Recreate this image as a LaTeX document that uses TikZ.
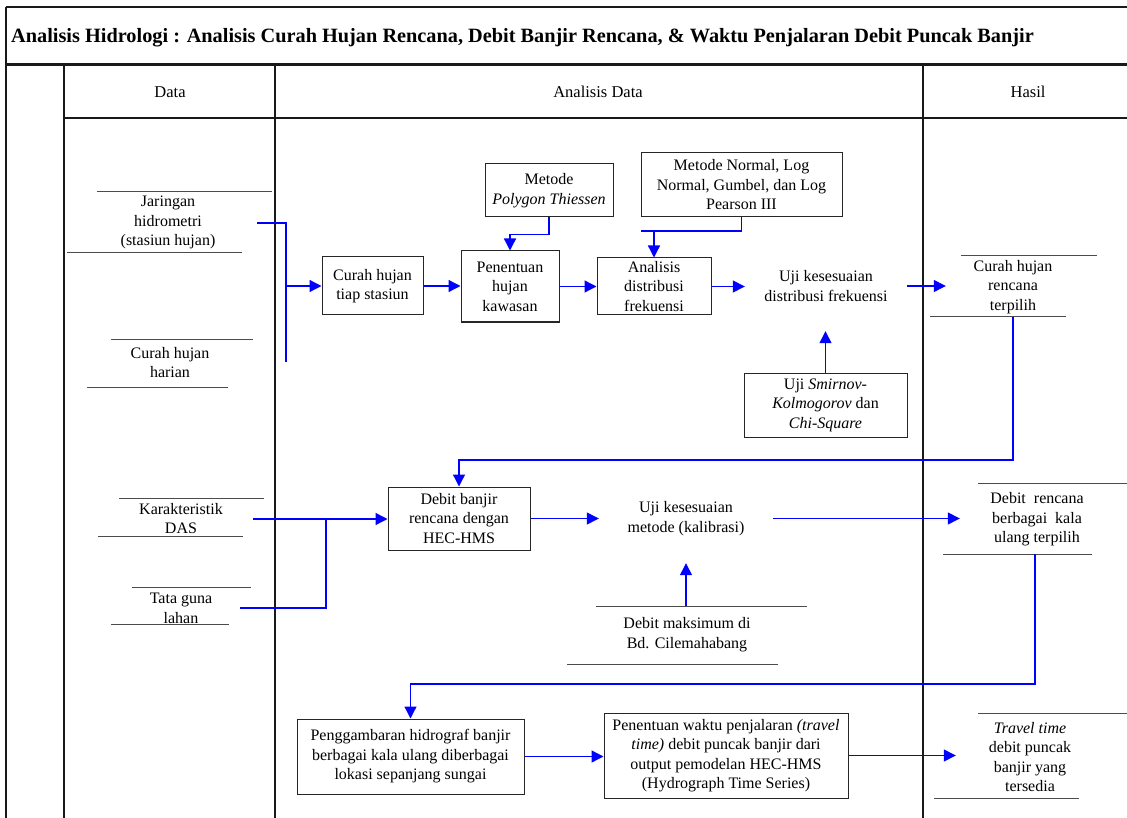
\documentclass[tikz,border=0pt]{standalone}
\usepackage{fontspec}
\setmainfont{Liberation Serif}
\usetikzlibrary{arrows.meta}

\tikzset{
  txt/.style={font=\fontsize{16}{19.5}\selectfont, align=center, inner sep=1pt},
  box/.style={txt, draw=black!85, line width=1pt},
  rule/.style={draw=black!70, line width=1pt},
  frame/.style={draw=black!90, line width=1.3pt},
  flowline/.style={draw=blue, line width=1.3pt},
  flow/.style={flowline, -{Triangle[length=12pt,width=12pt]}}
}

\begin{document}
\begin{tikzpicture}[x=1pt,y=-1pt]
        \useasboundingbox (0,0) rectangle (1127,818);
        % Frame
        \draw[frame] (6,7) -- (1127,7);
        \draw[frame, line width=2pt] (6,7) -- (6,818);
        \draw[frame, line width=3pt] (6,65) -- (1127,65);
        \draw[frame, line width=2pt] (64,65) -- (64,818);
        \draw[frame] (64,118) -- (1127,118);
        \draw[frame] (275,65) -- (275,818);
        \draw[frame] (923,65) -- (923,818);
        \node[txt, anchor=base west, font=\fontsize{20.3}{24}\selectfont\bfseries] (title) at (10,43)
          {Analisis Hidrologi : Analisis Curah Hujan Rencana, Debit Banjir Rencana, \& Waktu Penjalaran Debit Puncak Banjir};
        \node[txt, font=\fontsize{16.5}{19.5}\selectfont] (hdata) at (170,92) {Data};
        \node[txt, font=\fontsize{16.5}{19.5}\selectfont] (hanalisis) at (598,92) {Analisis Data};
        \node[txt, font=\fontsize{16.5}{19.5}\selectfont] (hhasil) at (1028,92) {Hasil};

        % Data
        \node[txt] (jaringan) at (168,222.5) {Jaringan\\hidrometri\\(stasiun hujan)};
        \draw[rule] (97,192) -- (272,192);
        \draw[rule] (67,253) -- (242,253);
        \node[txt] (harian) at (170,362.5) {Curah hujan\\harian};
        \draw[rule] (111,339) -- (253,339);
        \draw[rule] (87,387) -- (228,387);
        \node[txt] (karakter) at (181,518.5) {Karakteristik\\DAS};
        \draw[rule] (119,498) -- (264,498);
        \draw[rule] (98,536) -- (243,536);
        \node[txt] (tataguna) at (181,608.5) {Tata guna\\lahan};
        \draw[rule] (132,587) -- (251,587);
        \draw[rule] (111,624) -- (229,624);

        % Analisis curah hujan
        \node[box, minimum width=101pt, minimum height=58pt] (stasiun) at (372.5,286) {Curah hujan\\tiap stasiun};
        \node[box, minimum width=98pt, minimum height=71pt] (kawasan) at (510,286.5) {Penentuan\\hujan\\kawasan};
        \node[box, minimum width=128pt, minimum height=53pt] (thiessen) at (549,190.5) {Metode\\\textit{Polygon Thiessen}};
        \node[box, minimum width=114pt, minimum height=57pt, inner sep=0pt] (frek) at (654,286.5) {Analisis\\distribusi\\frekuensi};
        \node[box, minimum width=201pt, minimum height=64pt] (normal) at (741.5,185) {Metode Normal, Log\\Normal, Gumbel, dan Log\\Pearson III};
        \node[txt, minimum width=162pt, minimum height=90pt] (ujidist) at (826,286) {Uji kesesuaian\\distribusi frekuensi};
        \node[box, minimum width=163pt, minimum height=64pt] (smirnov) at (825.5,405) {Uji \textit{Smirnov-}\\\textit{Kolmogorov} dan\\\textit{Chi-Square}};

        % Analisis debit banjir
        \node[box, minimum width=142pt, minimum height=63pt] (hecbox) at (459,518.5) {Debit banjir\\rencana dengan\\HEC-HMS};
        \node[txt, minimum width=174pt, minimum height=89pt] (ujimetode) at (686,518.5) {Uji kesesuaian\\metode (kalibrasi)};
        \node[txt] (maks) at (687,634.5) {Debit maksimum di\\Bd. Cilemahabang};
        \draw[rule] (596,606) -- (807,606);
        \draw[rule] (567,664) -- (778,664);

        % Analisis waktu penjalaran
        \node[box, minimum width=227pt, minimum height=75pt] (gambar) at (410.5,756.5) {Penggambaran hidrograf banjir\\berbagai kala ulang diberbagai\\lokasi sepanjang sungai};
        \node[box, minimum width=244pt, minimum height=85pt] (travel) at (726,755.5) {Penentuan waktu penjalaran \textit{(travel}\\\textit{time)} debit puncak banjir dari\\output pemodelan HEC-HMS\\(Hydrograph Time Series)};

        % Hasil
        \node[txt, minimum width=134pt] (rencana) at (1013,287) {Curah hujan\\rencana\\terpilih};
        \draw[rule] (961,256) -- (1097,256);
        \draw[rule] (930,317) -- (1066,317);
        \node[txt, minimum width=154pt] (kala) at (1037,519.5) {Debit\ \ rencana\\berbagai\ \ kala\\ulang terpilih};
        \draw[rule] (978,483) -- (1127,483);
        \draw[rule] (943,554) -- (1092,554);
        \node[txt, minimum width=148pt] (traveltime) at (1030,757) {\textit{Travel time}\\debit puncak\\banjir yang\\tersedia};
        \draw[rule] (978,713) -- (1127,713);
        \draw[rule] (934,798) -- (1079,798);

        % Connectors
        \coordinate (jar-out) at (257,223);
        \coordinate (jar-join) at (286,362);
        \draw[flowline] (jar-out) -| (jar-join);
        \draw[flow] (jar-join |- stasiun.west) -- (stasiun.west);
        \draw[flow] (stasiun.east) -- (stasiun.east -| kawasan.west);
        \draw[flow] (thiessen.south) -- ++(0,17) -| (kawasan.north);
        \draw[flow] (kawasan.east) -- (kawasan.east -| frek.west);
        \coordinate (nrm-left) at (641,231);
        \draw[flowline] (normal.south) |- (nrm-left);
        \draw[flow] (nrm-left -| frek.north) -- (frek.north);
        \draw[flow] (frek.east) -- (frek.east -| ujidist.west);
        \draw[flow] (smirnov.north) -- (smirnov.north |- ujidist.south);
        \draw[flow] (ujidist.east) -- (ujidist.east -| rencana.west);
        \coordinate (ren-out) at (1013,317);
        \draw[flow] (ren-out) -- ++(0,143) -| (hecbox.north);
        \coordinate (kar-out) at (253,519);
        \coordinate (kar-join) at (326,519);
        \coordinate (tata-out) at (240,608);
        \draw[flow] (kar-out) -- (kar-out -| hecbox.west);
        \draw[flowline] (tata-out) -| (kar-join);
        \draw[flow] (hecbox.east) -- (hecbox.east -| ujimetode.west);
        \coordinate (maks-out) at (686,606);
        \draw[flow] (maks-out) -- (maks-out |- ujimetode.south);
        \draw[flow] (ujimetode.east) -- (ujimetode.east -| kala.west);
        \coordinate (kala-out) at (1035,554);
        \draw[flow] (kala-out) -- ++(0,130) -| (gambar.north);
        \draw[flow] (gambar.east) -- (gambar.east -| travel.west);
        \draw[flow] (travel.east) -- (travel.east -| traveltime.west);
    \end{tikzpicture}
\end{document}
